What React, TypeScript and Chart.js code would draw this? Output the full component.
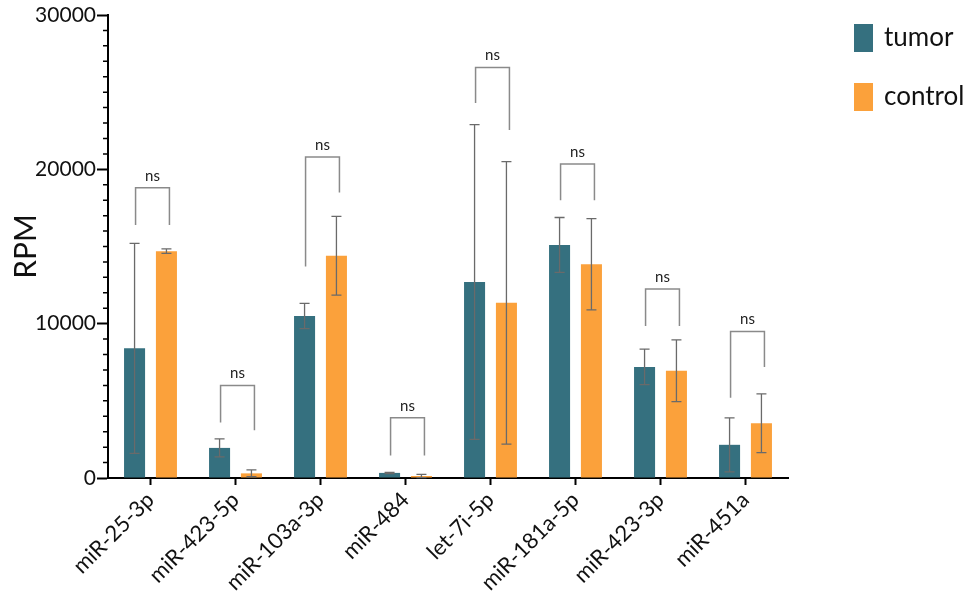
import { useEffect, useRef } from "react"
import { Chart, registerables } from "chart.js"

Chart.register(...registerables)

const categories = ["miR-25-3p", "miR-423-5p", "miR-103a-3p", "miR-484", "let-7i-5p", "miR-181a-5p", "miR-423-3p", "miR-451a"]
const tumor = [8400, 1950, 10500, 330, 12700, 15100, 7200, 2150]
const control = [14700, 300, 14400, 130, 11350, 13850, 6950, 3550]
const tumorErr = [6800, 580, 820, 40, 10200, 1780, 1150, 1750]
const controlErr = [150, 220, 2550, 110, 9150, 2950, 2000, 1900]
// significance brackets: top of bracket, bottom of left leg, bottom of right leg
const bracketTop = [18800, 6000, 20800, 3900, 26600, 20350, 12250, 9500]
const bracketLeft = [16400, 3600, 13700, 1450, 24300, 18000, 9850, 5200]
const bracketRight = [16400, 3100, 18500, 1450, 22550, 18000, 9850, 7200]
const bracketLabels = ["ns", "ns", "ns", "ns", "ns", "ns", "ns", "ns"]

const TUMOR = "#35707f"
const CONTROL = "#fba13b"
const FONT = "Lato, 'Open Sans', sans-serif"

const overlay = {
  id: "overlay",
  afterDatasetsDraw(chart: any) {
    const { ctx, chartArea } = chart
    const y = chart.scales.y
    const errs = [tumorErr, controlErr]
    const vals = [tumor, control]
    ctx.save()
    // error bars
    for (let d = 0; d < 2; d++) {
      const meta = chart.getDatasetMeta(d)
      meta.data.forEach((bar: any, i: number) => {
        const yt = y.getPixelForValue(vals[d][i] + errs[d][i])
        const yb = y.getPixelForValue(Math.max(0, vals[d][i] - errs[d][i]))
        ctx.strokeStyle = "#6a6a6a"
        ctx.lineWidth = 1.3
        ctx.beginPath()
        ctx.moveTo(bar.x, yt)
        ctx.lineTo(bar.x, yb)
        ctx.moveTo(bar.x - 5, yt)
        ctx.lineTo(bar.x + 5, yt)
        ctx.moveTo(bar.x - 5, yb)
        ctx.lineTo(bar.x + 5, yb)
        ctx.stroke()
      })
    }
    // brackets
    const m0 = chart.getDatasetMeta(0).data
    const m1 = chart.getDatasetMeta(1).data
    categories.forEach((_, i) => {
      const xl = m0[i].x + 1
      const xr = m1[i].x + 3
      const yt = y.getPixelForValue(bracketTop[i])
      ctx.strokeStyle = "#8a8a8a"
      ctx.lineWidth = 1.5
      ctx.beginPath()
      ctx.moveTo(xl, y.getPixelForValue(bracketLeft[i]))
      ctx.lineTo(xl, yt)
      ctx.lineTo(xr, yt)
      ctx.lineTo(xr, y.getPixelForValue(bracketRight[i]))
      ctx.stroke()
      ctx.fillStyle = "#222"
      ctx.font = `15px ${FONT}`
      ctx.textAlign = "center"
      ctx.textBaseline = "middle"
      ctx.fillText(bracketLabels[i], (xl + xr) / 2, yt - 12)
    })
    // minor y ticks
    ctx.strokeStyle = "#000"
    ctx.lineWidth = 1.5
    ctx.beginPath()
    for (let v = 1000; v < 30000; v += 1000) {
      if (v % 10000 === 0) continue
      const py = y.getPixelForValue(v)
      ctx.moveTo(chartArea.left - 5, py)
      ctx.lineTo(chartArea.left, py)
    }
    ctx.stroke()
    // legend
    const items = [
      { label: "tumor", color: TUMOR, top: 24 },
      { label: "control", color: CONTROL, top: 83 },
    ]
    items.forEach((it) => {
      ctx.fillStyle = it.color
      ctx.fillRect(854, it.top, 19, 28)
      ctx.fillStyle = "#111"
      ctx.font = `26px ${FONT}`
      ctx.textAlign = "left"
      ctx.textBaseline = "middle"
      ctx.fillText(it.label, 884, it.top + 14)
    })
    ctx.restore()
  },
}

export default function App() {
  const chartRef = useRef<HTMLCanvasElement>(null)
  const chartInstance = useRef<Chart | null>(null)

  useEffect(() => {
    document.body.style.margin = "0"
    if (!chartRef.current) return
    if (chartInstance.current) chartInstance.current.destroy()
    const ctx = chartRef.current.getContext("2d")
    if (!ctx) return

    chartInstance.current = new Chart(ctx, {
      type: "bar",
      data: {
        labels: categories,
        datasets: [
          { label: "tumor", data: tumor, backgroundColor: TUMOR, categoryPercentage: 0.75, barPercentage: 0.66 },
          { label: "control", data: control, backgroundColor: CONTROL, categoryPercentage: 0.75, barPercentage: 0.66 },
        ],
      },
      options: {
        animation: false,
        responsive: true,
        maintainAspectRatio: false,
        layout: { padding: { left: 8, right: 183, top: 15, bottom: 0 } },
        scales: {
          x: {
            grid: { drawOnChartArea: false, offset: false, tickLength: 7, tickWidth: 2, tickColor: "#000" },
            border: { color: "#000", width: 2 },
            ticks: {
              color: "#111",
              font: { family: FONT, size: 22 },
              minRotation: 45,
              maxRotation: 45,
              padding: 2,
            },
            afterFit: (scale: any) => {
              scale.height = 114
            },
          },
          y: {
            min: 0,
            max: 30000,
            grid: { drawOnChartArea: false, tickLength: 11, tickWidth: 2, tickColor: "#000" },
            border: { color: "#000", width: 2 },
            ticks: {
              stepSize: 10000,
              color: "#111",
              font: { family: FONT, size: 21 },
              padding: 1,
              callback: (v: any) => String(v),
            },
            title: { display: true, text: "RPM", color: "#111", font: { family: FONT, size: 30 }, padding: 0 },
            afterFit: (scale: any) => {
              scale.width = 100
            },
          },
        },
        plugins: {
          legend: { display: false },
          tooltip: { enabled: false },
        },
      },
      plugins: [overlay],
    })

    return () => {
      if (chartInstance.current) {
        chartInstance.current.destroy()
        chartInstance.current = null
      }
    }
  }, [])

  return (
    <div style={{ width: 971, height: 592, position: "relative" }}>
      <canvas ref={chartRef} />
    </div>
  )
}
